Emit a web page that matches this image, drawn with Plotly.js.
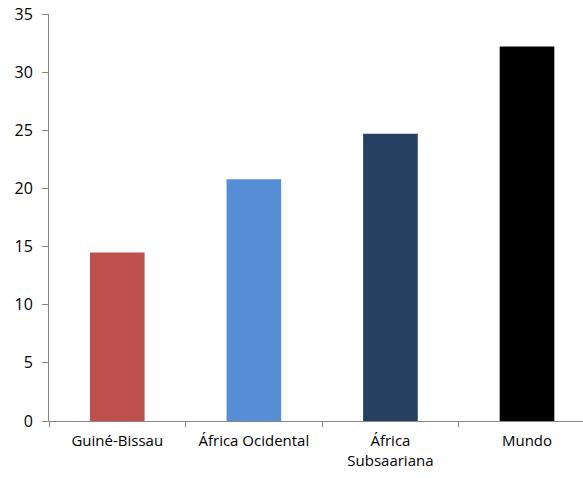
<!DOCTYPE html>
<html>
<head>
<meta charset="utf-8">
<script src="https://cdn.plot.ly/plotly-3.0.1.min.js"></script>
<style>html,body{margin:0;padding:0;background:#fff;}#chart{width:583px;height:478px;}</style>
</head>
<body>
<div id="chart"></div>
<script>
const categories = ["Guiné-Bissau", "África Ocidental", "África<br>Subsaariana", "Mundo"];
const values = [14.5, 20.8, 24.7, 32.2];
const barColors = ["#C0504D", "#558ED5", "#254061", "#000000"];
const yTicks = [0, 5, 10, 15, 20, 25, 30, 35];

const trace = {
  type: "bar",
  x: categories,
  y: values,
  marker: {color: barColors},
  width: 0.4,
  hoverinfo: "none"
};

const axisColor = "#868686";
const layout = {
  width: 583,
  height: 478,
  margin: {l: 49, r: 0, t: 14, b: 57},
  paper_bgcolor: "#ffffff",
  plot_bgcolor: "#ffffff",
  showlegend: false,
  font: {family: "Open Sans, sans-serif", size: 15, color: "#000000"},
  xaxis: {
    type: "category",
    range: [-0.5, 3.41],
    showline: true, linecolor: axisColor, linewidth: 1,
    ticks: "outside", tickson: "boundaries", ticklen: 5, tickcolor: axisColor,
    showgrid: false, zeroline: false,
    ticklabelstandoff: 6,
    tickfont: {family: "Open Sans, sans-serif", size: 15, color: "#000"}
  },
  yaxis: {
    range: [0, 35],
    tickvals: yTicks,
    ticktext: yTicks.map(String),
    showline: true, linecolor: axisColor, linewidth: 1,
    ticks: "outside", ticklen: 6, tickcolor: axisColor,
    showgrid: false, zeroline: false,
    ticklabelstandoff: 6,
    tickfont: {family: "Open Sans, sans-serif", size: 16, color: "#000"}
  }
};

Plotly.newPlot("chart", [trace], layout, {staticPlot: true, displayModeBar: false});
</script>
</body>
</html>
